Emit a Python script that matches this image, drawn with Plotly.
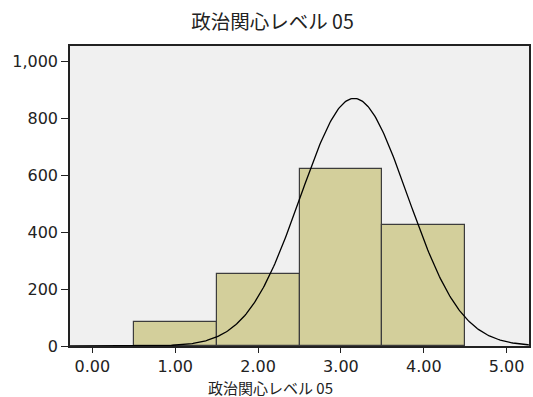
import numpy as np
import plotly.graph_objects as go

# Data
bin_centers = [1, 2, 3, 4]
bin_counts = [85, 254, 621, 424]
bin_width = 1.0

# Fitted normal curve parameters (as drawn in the reference)
curve_mean = 3.16
curve_sd = 0.645
curve_n = 1408

x_tick_vals = [0, 1, 2, 3, 4, 5]
y_tick_vals = [0, 200, 400, 600, 800, 1000]
title_text = "政治関心レベル 05"

xs = np.linspace(-0.27, 5.27, 400)
ys = curve_n * bin_width / (curve_sd * np.sqrt(2 * np.pi)) * np.exp(-0.5 * ((xs - curve_mean) / curve_sd) ** 2)

fig = go.Figure()
fig.add_trace(go.Bar(
    x=bin_centers, y=bin_counts, width=bin_width,
    marker=dict(color="#d3cf9b", line=dict(color="#3c3c3c", width=1.2)),
    showlegend=False, hoverinfo="skip"))
fig.add_trace(go.Scatter(
    x=xs, y=ys, mode="lines", line=dict(color="black", width=1.3),
    showlegend=False, hoverinfo="skip"))

tick_font = dict(family="DejaVu Sans", size=16, color="#222222")
cjk = "Noto Sans CJK JP"

fig.update_layout(
    width=533, height=397,
    margin=dict(l=70, r=2, t=46, b=51),
    paper_bgcolor="white", plot_bgcolor="#f0f0f0",
    bargap=0,
    title=dict(text=title_text, x=272.5 / 533, xanchor="center",
               y=1 - 22 / 397, yanchor="middle", xref="container", yref="container",
               font=dict(family=cjk, size=19.5, color="#222222")),
    xaxis=dict(range=[-0.27, 5.27], tickvals=x_tick_vals, tickformat=".2f",
               ticks="outside", ticklen=5, tickwidth=1.2, tickcolor="#222222",
               showline=True, linecolor="#222222", linewidth=1.5, mirror=True,
               showgrid=False, zeroline=False, tickfont=tick_font),
    yaxis=dict(range=[0, 1055], tickvals=y_tick_vals, tickformat=",",
               ticks="outside", ticklen=7, tickwidth=1.2, tickcolor="#222222",
               showline=True, linecolor="#222222", linewidth=1.5, mirror=True,
               showgrid=False, zeroline=False, tickfont=tick_font),
    annotations=[dict(text=title_text, xref="paper", yref="paper",
                      x=(271 - 70) / 461, y=(346 - 387) / 300,
                      xanchor="center", yanchor="middle", showarrow=False,
                      font=dict(family=cjk, size=15, color="#222222"))],
)

fig.write_html("out.html", config={"displayModeBar": False},
               post_script="document.body.style.margin='0';document.body.style.overflow='hidden';")
